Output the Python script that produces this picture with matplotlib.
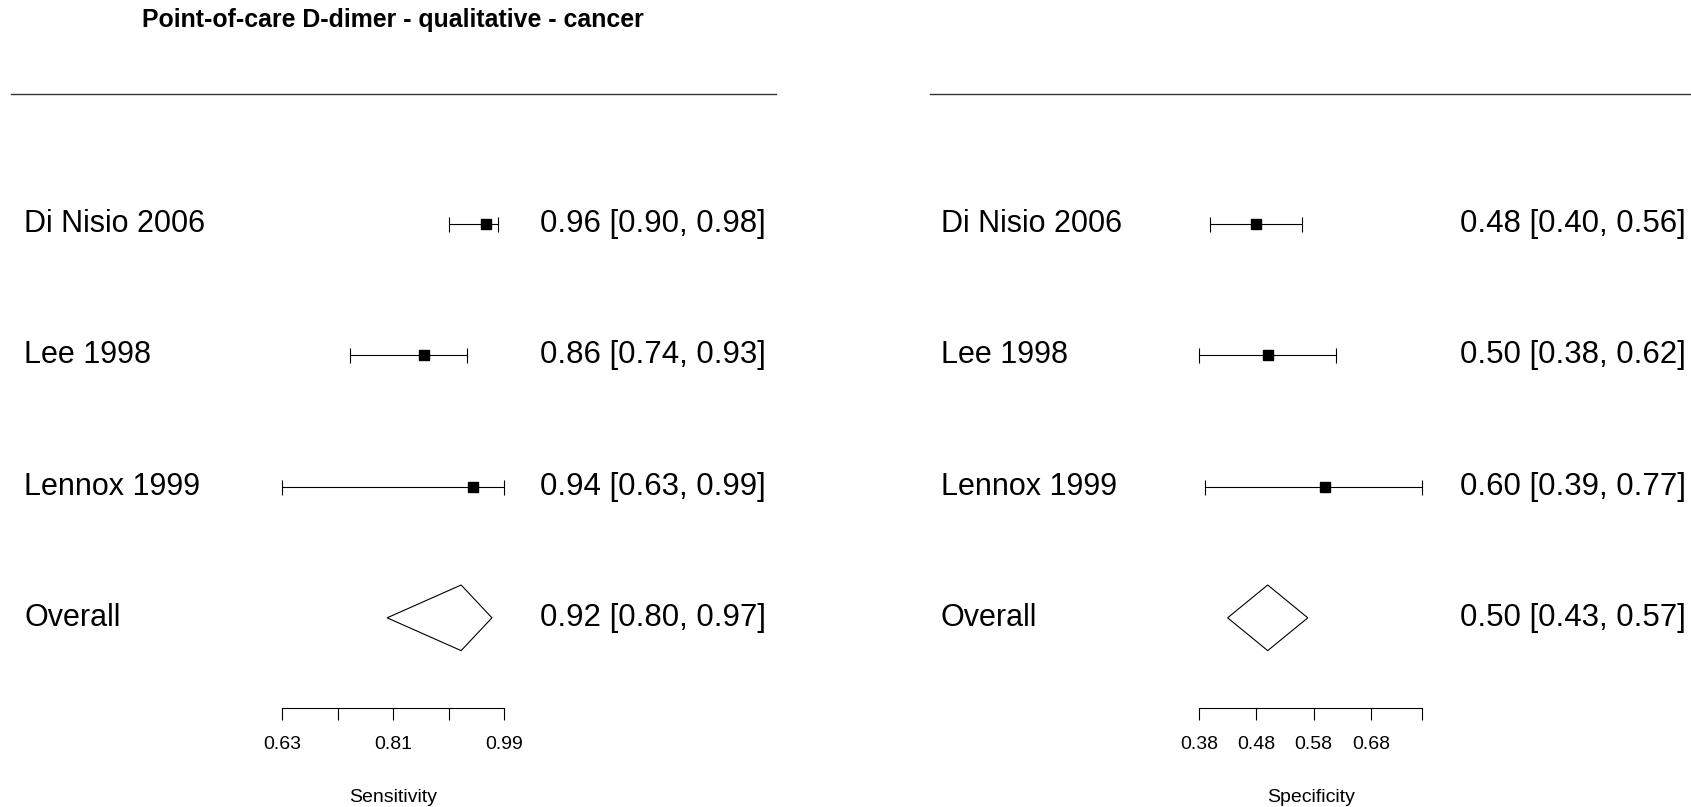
import matplotlib
matplotlib.use('Agg')
import matplotlib.pyplot as plt
from matplotlib.patches import Polygon
from matplotlib.lines import Line2D
import matplotlib.transforms as mtransforms

plt.rcParams['font.family'] = ['Liberation Sans', 'DejaVu Sans']

title = 'Point-of-care D-dimer - qualitative - cancer'
studies = ['Di Nisio 2006', 'Lee 1998', 'Lennox 1999']

sens = [0.96, 0.86, 0.94]
sens_lo = [0.90, 0.74, 0.63]
sens_hi = [0.98, 0.93, 0.99]
sens_overall = [0.92, 0.80, 0.97]  # estimate, lower, upper

spec = [0.48, 0.50, 0.60]
spec_lo = [0.40, 0.38, 0.39]
spec_hi = [0.56, 0.62, 0.77]
spec_overall = [0.50, 0.43, 0.57]

sens_ticks = [0.63, 0.72, 0.81, 0.90, 0.99]
sens_ticklabels = ['0.63', '', '0.81', '', '0.99']
spec_ticks = [0.38, 0.48, 0.58, 0.68, 0.77]
spec_ticklabels = ['0.38', '0.48', '0.58', '0.68', '']

W, H = 1691, 807
fig = plt.figure(figsize=(W / 100, H / 100), dpi=100)


def px_box(x0, x1, ytop, ybot):
    return [x0 / W, 1 - ybot / H, (x1 - x0) / W, (ybot - ytop) / H]


def panel(box, est, lo, hi, overall, ticks, ticklabels, xlabel, label_x, ci_x, line_x):
    ax = fig.add_axes(box)
    ax.set_xlim(ticks[0], ticks[-1])
    ax.set_ylim(3.69, -0.99)
    ax.patch.set_visible(False)
    for s in ['left', 'top', 'right']:
        ax.spines[s].set_visible(False)
    ax.spines['bottom'].set_linewidth(0.8)
    ax.set_yticks([])
    ax.set_xticks(ticks)
    ax.set_xticklabels(ticklabels, fontsize=14)
    ax.tick_params(axis='x', direction='out', length=8.6, width=0.8, pad=11.5)
    ax.set_xlabel(xlabel, fontsize=14, labelpad=25.5)

    rows = list(range(len(est)))
    xerr = [[e - l for e, l in zip(est, lo)], [h - e for e, h in zip(est, hi)]]
    ax.errorbar(est, rows, xerr=xerr, fmt='s', color='black', ms=6.5,
                elinewidth=0.8, capsize=5.4, capthick=0.8, clip_on=False)

    yo = len(est)
    e, l, h = overall
    ax.add_patch(Polygon([[l, yo], [e, yo - 0.25], [h, yo], [e, yo + 0.25]],
                         closed=True, fill=False, edgecolor='black', lw=0.8, clip_on=False))

    tr = mtransforms.blended_transform_factory(fig.transFigure, ax.transData)
    names = studies + ['Overall']
    vals = list(zip(est, lo, hi)) + [tuple(overall)]
    for i, (name, (e, l, h)) in enumerate(zip(names, vals)):
        ax.text(label_x / W, i, name, transform=tr, fontsize=22,
                va='center', ha='left')
        ax.text(ci_x / W, i, f'{e:.2f} [{l:.2f}, {h:.2f}]', transform=tr,
                fontsize=22.5, va='center', ha='left')

    fig.add_artist(Line2D([line_x[0] / W, line_x[1] / W], [1 - 94 / H, 1 - 94 / H],
                          transform=fig.transFigure, color='0.2', lw=1))
    return ax


panel(px_box(282.3, 504.3, 94, 708.4), sens, sens_lo, sens_hi, sens_overall,
      sens_ticks, sens_ticklabels, 'Sensitivity', 24, 540.5, (11, 776))
panel(px_box(1199, 1422.3, 94, 708.4), spec, spec_lo, spec_hi, spec_overall,
      spec_ticks, spec_ticklabels, 'Specificity', 941, 1459.5, (930, 1691))

fig.text(393 / W, 1 - 20.5 / H, title, fontsize=17.9, fontweight='bold',
         ha='center', va='center')

fig.savefig('out.png', dpi=100)
